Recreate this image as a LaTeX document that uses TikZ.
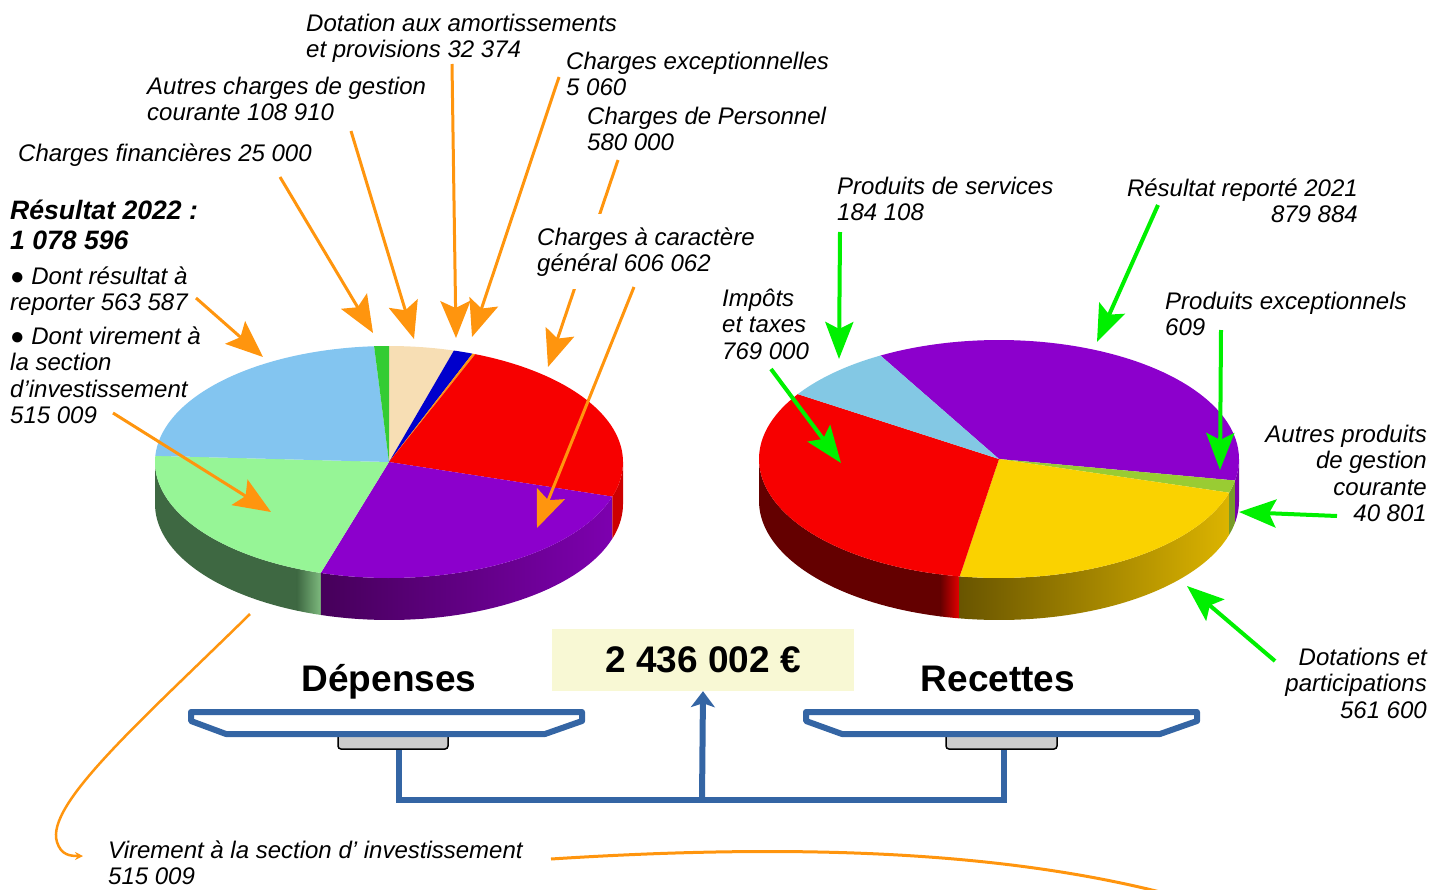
\documentclass[tikz,border=0pt]{standalone}
\usepackage{fontspec}
\setmainfont{Liberation Sans}
\usetikzlibrary{arrows.meta}
\definecolor{orangeA}{RGB}{255,149,14}
\definecolor{greenA}{RGB}{0,240,0}
\definecolor{scaleblue}{RGB}{52,101,164}
\definecolor{boxyellow}{RGB}{248,248,212}
\definecolor{lblue}{RGB}{131,197,240}
\definecolor{sgreen}{RGB}{51,204,51}
\definecolor{beige}{RGB}{247,222,180}
\definecolor{dblue}{RGB}{0,0,204}
\definecolor{pred}{RGB}{247,0,0}
\definecolor{ppurple}{RGB}{140,0,204}
\definecolor{lgreen}{RGB}{150,245,150}
\definecolor{gside}{RGB}{62,104,66}
\definecolor{gsidehi}{RGB}{125,185,125}
\definecolor{psideA}{RGB}{70,0,90}
\definecolor{psideB}{RGB}{125,0,175}
\definecolor{rside}{RGB}{205,0,0}
\definecolor{rblue}{RGB}{131,200,228}
\definecolor{ygreen}{RGB}{153,204,51}
\definecolor{yyellow}{RGB}{250,210,0}
\definecolor{rrside}{RGB}{100,0,0}
\definecolor{rrsidehi}{RGB}{230,0,0}
\definecolor{ysideA}{RGB}{105,85,0}
\definecolor{ysideB}{RGB}{220,180,0}
\definecolor{ygside}{RGB}{120,155,40}
\definecolor{pside2}{RGB}{120,0,170}
\definecolor{panbase}{RGB}{204,204,204}

% top face slice: cx, cy, rx, ry, angle from, angle to, options
\newcommand\pietop[7]{%
  \fill[#7] (#1,#2) -- plot[variable=\t,domain=#5:#6,samples=60]
     ({#1+#3*cos(\t)},{#2-#4*sin(\t)}) -- cycle;}
% side of the cylinder: cx, cy, rx, ry, angle from, angle to, options
\newcommand\pieside[7]{%
  \path[#7] plot[variable=\t,domain=#5:#6,samples=40]
     ({#1+#3*cos(\t)},{#2-#4*sin(\t)})
   -- plot[variable=\t,domain=#6:#5,samples=40]
     ({#1+#3*cos(\t)},{#2+42-#4*sin(\t)}) -- cycle;}

\begin{document}
\begin{tikzpicture}[x=1pt,y=-1pt,
  lbl/.style={font=\fontsize{24}{26.5}\selectfont\itshape, inner sep=0pt,
              align=left, anchor=base west},
  lblr/.style={lbl, align=right, anchor=base east},
  title/.style={font=\fontsize{37}{40}\selectfont\bfseries, inner sep=0pt, anchor=base},
  oarrow/.style={draw=orangeA, line width=3pt,
                 -{Stealth[length=37pt,width=30pt,inset=7pt]}},
  garrow/.style={draw=greenA, line width=4pt,
                 -{Stealth[length=37pt,width=28pt,inset=7pt]}},
  pan/.style={draw=scaleblue, line width=6pt, line join=round},
  panfoot/.style={fill=panbase, draw=black, line width=1.5pt, rounded corners=3pt},
  beam/.style={draw=scaleblue, line width=6pt, line join=miter}
]
\useasboundingbox (0,0) rectangle (1432,889);

% ---------------- left pie (Dépenses) ----------------
\pieside{389}{462}{234}{116}{180}{247}{fill=gside}
\pieside{389}{462}{234}{116}{246.8}{253.05}{left color=gside,right color=gsidehi}
\pieside{389}{462}{234}{116}{253.05}{342.65}{left color=psideA,right color=psideB}
\pieside{389}{462}{234}{116}{342.65}{360}{fill=rside}
\pietop{389}{462}{234}{116}{73.9}{90}{beige}
\pietop{389}{462}{234}{116}{69.1}{73.9}{dblue}
\pietop{389}{462}{234}{116}{68.35}{69.1}{orangeA}
\pietop{389}{462}{234}{116}{-17.35}{68.35}{pred}
\pietop{389}{462}{234}{116}{-106.95}{-17.35}{ppurple}
\pietop{389}{462}{234}{116}{-183.05}{-106.95}{lgreen}
\pietop{389}{462}{234}{116}{-266.35}{-183.05}{lblue}
\pietop{389}{462}{234}{116}{-270}{-266.35}{sgreen}

% ---------------- right pie (Recettes) ----------------
\pieside{999}{459}{240}{119}{180}{256}{fill=rrside}
\pieside{999}{459}{240}{119}{255.8}{260.57}{left color=rrside,right color=rrsidehi}
\pieside{999}{459}{240}{119}{260.57}{343.57}{left color=ysideA,right color=ysideB}
\pieside{999}{459}{240}{119}{343.57}{349.6}{fill=ygside}
\pieside{999}{459}{240}{119}{349.6}{360}{fill=pside2}
\pietop{999}{459}{240}{119}{-10.4}{119.6}{ppurple}
\pietop{999}{459}{240}{119}{-16.43}{-10.4}{ygreen}
\pietop{999}{459}{240}{119}{-99.43}{-16.43}{yyellow}
\pietop{999}{459}{240}{119}{-213.03}{-99.43}{pred}
\pietop{999}{459}{240}{119}{-240.4}{-213.03}{rblue}

% ---------------- labels, left (anchored at the baseline of the last line) ----------------
\node[lbl] (dot) at (306,57.5) {Dotation aux amortissements\\et provisions 32 374};
\node[lbl] (exc) at (566,95.5) {Charges exceptionnelles\\5 060};
\node[lbl] (agc) at (147,120.5) {Autres charges de gestion\\courante 108 910};
\node[lbl] (per) at (587,150.5) {Charges de Personnel\\580 000};
\node[lbl] (fin) at (18,161) {Charges financières 25 000};
\node[lbl, font=\fontsize{26.6}{30}\selectfont\bfseries\itshape] (res) at (10,249)
   {Résultat 2022 :\\1 078 596};
\node[lbl] (bul1) at (10,310.5) {● Dont résultat à\\reporter 563 587};
\node[lbl] (bul2) at (10,423.5) {● Dont virement à\\la section\\d’investissement\\515 009};

% ---------------- labels, right ----------------
\node[lbl] (srv) at (837,220.5) {Produits de services\\184 108};
\node[lblr] (rrep) at (1358,222.5) {Résultat reporté 2021\\879 884};
\node[lbl] (imp) at (722,359) {Impôts\\et taxes\\769 000};
\node[lbl] (pex) at (1165,335.5) {Produits exceptionnels\\609};
\node[lblr] (apg) at (1427,521.5) {Autres produits\\de gestion\\courante\\40 801};
\node[lblr] (dpa) at (1427,718) {Dotations et\\participations\\561 600};
\node[lbl] (vir) at (108,884.5) {Virement à la section d’ investissement\\515 009};

% ---------------- orange connectors ----------------
\coordinate (fin-s) at (280,177);  \coordinate (fin-e) at (373,333);
\coordinate (agc-s) at (351,131);  \coordinate (agc-e) at (414,339);
\coordinate (dot-s) at (452,64);   \coordinate (dot-e) at (456,338);
\coordinate (exc-s) at (559,77);   \coordinate (exc-e) at (472,337);
\coordinate (per-s) at (618,160);  \coordinate (per-e) at (548,367);
\coordinate (gen-s) at (634,287);  \coordinate (gen-e) at (537,528);
\coordinate (rep-s) at (196,298);  \coordinate (rep-e) at (263,357);
\coordinate (vir-s) at (113,413);  \coordinate (vir-e) at (271,512);
\draw[oarrow] (fin-s) -- (fin-e);
\draw[oarrow] (agc-s) -- (agc-e);
\draw[oarrow] (dot-s) -- (dot-e);
\draw[oarrow] (exc-s) -- (exc-e);
\draw[oarrow] (per-s) -- (per-e);
\node[lbl, fill=white, inner ysep=13pt] (gen) at (537,271.5) {Charges à caractère\\général 606 062};
\draw[oarrow] (gen-s) -- (gen-e);
\draw[oarrow] (rep-s) -- (rep-e);
\draw[oarrow] (vir-s) -- (vir-e);

% curved connectors at the bottom
\coordinate (cv-s) at (250,614);
\coordinate (cv-e) at (83,856);
\draw[draw=orangeA, line width=2.5pt, -{Stealth[length=8pt,width=8pt]}]
  (cv-s) .. controls (140,722) and (45,805) .. (57,842)
         .. controls (61,855) and (70,856) .. (cv-e);
\coordinate (cw-s) at (551,859);
\coordinate (cw-e) at (1160,892);
\draw[draw=orangeA, line width=3pt]
  (cw-s) .. controls (800,843) and (1000,852) .. (cw-e);

% ---------------- green connectors ----------------
\coordinate (srv-s) at (840,232);  \coordinate (srv-e) at (839,359);
\coordinate (rr-s) at (1158,205);  \coordinate (rr-e) at (1097,342);
\coordinate (imp-s) at (771,369);  \coordinate (imp-e) at (841,463);
\coordinate (pex-s) at (1221,330); \coordinate (pex-e) at (1220,470);
\coordinate (apg-s) at (1337,516); \coordinate (apg-e) at (1239,512);
\coordinate (dp-s) at (1275,661);  \coordinate (dp-e) at (1187,586);
\draw[garrow] (srv-s) -- (srv-e);
\draw[garrow] (rr-s) -- (rr-e);
\draw[garrow] (imp-s) -- (imp-e);
\draw[garrow] (pex-s) -- (pex-e);
\draw[garrow] (apg-s) -- (apg-e);
\draw[garrow] (dp-s) -- (dp-e);

% ---------------- balance ----------------
\node[title] (dep) at (389,691) {Dépenses};
\node[title] (rec) at (998,691) {Recettes};
\node[fill=boxyellow, minimum width=302pt, minimum height=62pt, inner sep=0pt,
      font=\fontsize{37}{40}\selectfont\bfseries] (total) at (703,660) {2 436 002 €};

\draw[panfoot] (338,730) rectangle (448,749);
\draw[panfoot] (946,730) rectangle (1057,749);
\draw[pan, fill=white] (191,712) -- (582,712) -- (582,721) -- (545,734) -- (226,734) -- (191,721) -- cycle;
\draw[pan, fill=white] (806,712) -- (1197,712) -- (1197,721) -- (1160,734) -- (842,734) -- (806,721) -- cycle;
\coordinate (lfoot) at (399,750);
\coordinate (rfoot) at (1004,750);
\coordinate (mid) at (702,800);
\draw[beam] (lfoot) |- (mid) -| (rfoot);
\draw[beam, -{Stealth[length=16pt,width=24pt,inset=4pt]}] (mid) -- (total.south);
\end{tikzpicture}
\end{document}
